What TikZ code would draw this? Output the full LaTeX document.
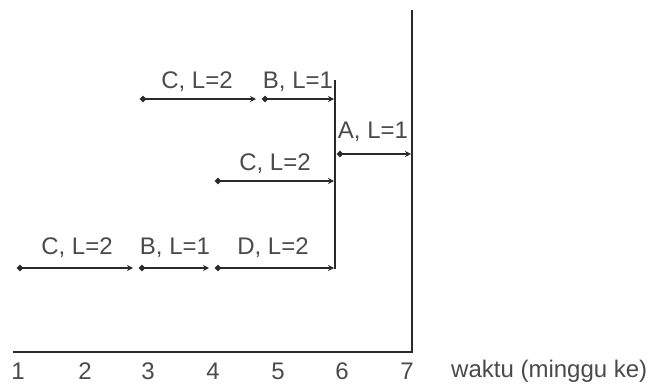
\documentclass[tikz,border=0pt]{standalone}
\usepackage{fontspec}
\setmainfont{Liberation Sans}
\usetikzlibrary{arrows.meta}
\definecolor{txt}{HTML}{4A4A4A}
\definecolor{ln}{HTML}{2A2A2A}
\begin{document}
\begin{tikzpicture}[x=1pt,y=-1pt,
  lbl/.style={text=txt,font=\fontsize{24}{26}\selectfont,inner sep=0pt},
  act/.style={draw=ln,line width=2.3pt,{Circle[length=6pt]}-{Stealth[length=6pt,width=6pt]}},
  axis/.style={draw=ln,line width=2.6pt}]
\useasboundingbox (0,0) rectangle (648,386);
% axes
\coordinate (o) at (13,352);
\coordinate (c7) at (412,352);
\coordinate (top) at (412,10);
\draw[axis] (o) -- (c7) -- (top);
\foreach \n/\x in {1/18,2/85,3/148,4/213,5/278,6/342,7/407}
  \node[lbl] (t\n) at (\x,371) {\n};
\node[lbl,anchor=west] (wk) at (451,371) {waktu (minggu ke)};
% milestone line at week 6
\coordinate (m6t) at (335,80);
\coordinate (m6b) at (335,269);
\draw[draw=ln,line width=2.5pt] (m6t) -- (m6b);
% bottom row
\coordinate (b0) at (17,268);
\coordinate (b1) at (133,268);
\coordinate (b2) at (139,268);
\coordinate (b3) at (209,268);
\coordinate (b4) at (215,268);
\coordinate (b5) at (334,268);
\draw[act] (b0) -- (b1);
\draw[act] (b2) -- (b3);
\draw[act] (b4) -- (b5);
\node[lbl] (lc1) at (77,248) {C, L=2};
\node[lbl] (lb1) at (175,248) {B, L=1};
\node[lbl] (ld1) at (273,248) {D, L=2};
% middle C
\coordinate (m0) at (215,181);
\coordinate (m1) at (334,181);
\draw[act] (m0) -- (m1);
\node[lbl] (lc2) at (275,164) {C, L=2};
% A
\coordinate (a0) at (337,154);
\coordinate (a1) at (411,154);
\draw[act] (a0) -- (a1);
\node[lbl] (la) at (373,132) {A, L=1};
% top row
\coordinate (u0) at (140,99);
\coordinate (u1) at (256,99);
\coordinate (u2) at (262,99);
\coordinate (u3) at (334,99);
\draw[act] (u0) -- (u1);
\draw[act] (u2) -- (u3);
\node[lbl] (lc3) at (197,82) {C, L=2};
\node[lbl] (lb3) at (298,82) {B, L=1};
\end{tikzpicture}
\end{document}
